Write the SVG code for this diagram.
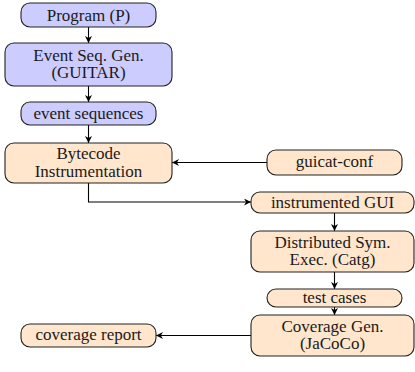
<svg xmlns="http://www.w3.org/2000/svg" width="415" height="372" viewBox="0 0 415 372">
<defs>
<marker id="ah" viewBox="0 0 10 10" refX="10" refY="5" markerWidth="7" markerHeight="7" markerUnits="userSpaceOnUse" orient="auto">
<path d="M0,0 L10,5 L0,10 L3,5 Z" fill="#000"/>
</marker>
<style>
.b{fill:#ccccff;stroke:#222;stroke-width:1.1}
.o{fill:#ffe6cc;stroke:#222;stroke-width:1.1}
.t{font-size:17px;fill:#1a1a1a;text-anchor:middle}
.c{fill:none;stroke:#000;stroke-width:1.1;marker-end:url(#ah)}
</style>
</defs>
<rect width="415" height="372" fill="#fff"/>
<g id="connectors">
<line class="c" x1="88.5" y1="27" x2="88.5" y2="43"/>
<line class="c" x1="88.5" y1="86" x2="88.5" y2="102"/>
<line class="c" x1="88.5" y1="125" x2="88.5" y2="143"/>
<line class="c" x1="267" y1="162.5" x2="172" y2="162.5"/>
<polyline class="c" points="88.5,183 88.5,202 251,202"/>
<line class="c" x1="334.5" y1="213" x2="334.5" y2="231"/>
<line class="c" x1="334.5" y1="272" x2="334.5" y2="289"/>
<line class="c" x1="334.5" y1="307" x2="334.5" y2="315"/>
<line class="c" x1="251" y1="335.5" x2="156" y2="335.5"/>
</g>
<g class="t" font-family="'Liberation Serif', 'Times New Roman', serif">
<g id="program"><rect class="b" x="21" y="3" width="135" height="24" rx="9"/><text x="88.5" y="20.5">Program (P)</text></g>
<g id="eventseqgen"><rect class="b" x="5" y="43" width="167" height="43" rx="9"/><text x="88.5" y="60.5">Event Seq. Gen.</text><text x="88.5" y="78">(GUITAR)</text></g>
<g id="eventsequences"><rect class="b" x="21" y="102" width="135" height="23" rx="9"/><text x="88.5" y="118.5">event sequences</text></g>
<g id="bytecode"><rect class="o" x="5" y="143" width="167" height="40" rx="9"/><text x="88.5" y="159">Bytecode</text><text x="88.5" y="176.5">Instrumentation</text></g>
<g id="guicatconf"><rect class="o" x="267" y="150" width="135" height="25" rx="9"/><text x="334.5" y="167">guicat-conf</text></g>
<g id="instrumentedgui"><rect class="o" x="251" y="192" width="163" height="21" rx="9"/><text x="332.5" y="207.5">instrumented GUI</text></g>
<g id="distributed"><rect class="o" x="251" y="231" width="163" height="41" rx="9"/><text x="332.5" y="247.5">Distributed Sym.</text><text x="332.5" y="265">Exec. (Catg)</text></g>
<g id="testcases"><rect class="o" x="267" y="289" width="135" height="18" rx="9"/><text x="334.5" y="303">test cases</text></g>
<g id="coveragegen"><rect class="o" x="251" y="315" width="163" height="41" rx="9"/><text x="332.5" y="331.5">Coverage Gen.</text><text x="332.5" y="349">(JaCoCo)</text></g>
<g id="coveragereport"><rect class="o" x="21" y="324" width="135" height="23" rx="9"/><text x="88.5" y="340">coverage report</text></g>
</g>
</svg>
